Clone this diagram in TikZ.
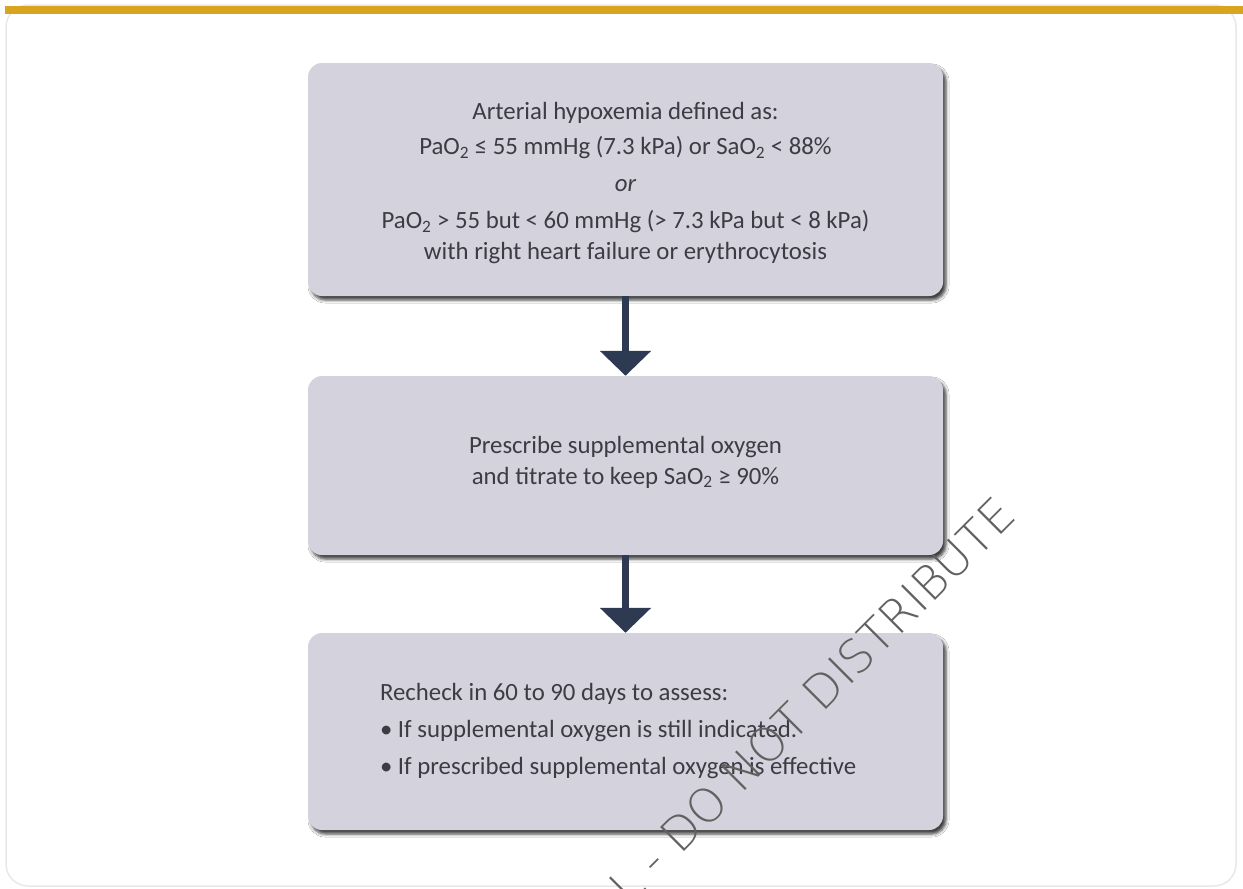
\documentclass[tikz,border=0pt]{standalone}
\usepackage{fontspec}
\setmainfont{Carlito}
\IfFontExistsTF{DejaVu Sans ExtraLight}
  {\newfontfamily\wmfont{DejaVu Sans ExtraLight}}
  {\IfFontExistsTF{DejaVuSans-ExtraLight.ttf}
    {\newfontfamily\wmfont{DejaVuSans-ExtraLight.ttf}}
    {\newfontfamily\wmfont{Liberation Sans}}}
\usetikzlibrary{shadows.blur, arrows.meta}
\definecolor{boxfill}{HTML}{D4D2DC}
\definecolor{navy}{HTML}{2E3A52}
\definecolor{txt}{HTML}{3C3C44}
\definecolor{gold}{HTML}{D9A51E}
\definecolor{cardline}{HTML}{E8E8EA}
\newcommand{\sub}[1]{\textsubscript{#1}}
\begin{document}
\begin{tikzpicture}[x=1pt,y=-1pt,
  flowbox/.style={fill=boxfill, rounded corners=14pt, minimum width=635pt, text=txt,
    font=\fontsize{24.8}{31}\selectfont, inner sep=0pt,
    blur shadow={shadow xshift=3pt, shadow yshift=-4pt, shadow opacity=75, shadow blur radius=3pt}},
  flowarrow/.style={navy, line width=7pt, -{Triangle[width=50pt,length=25pt]}},
  wm/.style={font=\wmfont\fontsize{46.5}{46.5}\selectfont, text=black!62, rotate=45, inner sep=0pt}]
\useasboundingbox (0,0) rectangle (1243,889);
\fill[white] (0,0) rectangle (1243,889);
% card
\draw[cardline, line width=1.5pt, rounded corners=22pt] (6,5) rectangle (1236,886);
\fill[gold] (5,5.5) rectangle (1243,13.5);
% boxes
\node[flowbox, minimum height=233pt, align=center] (b1) at (625.5,179.5)
  {\rule{0pt}{24pt}Arterial hypoxemia defined as:\\[4pt]
   PaO\sub{2} ≤ 55 mmHg (7.3 kPa) or SaO\sub{2} < 88\%\\[6pt]
   \textit{or}\\[6pt]
   PaO\sub{2} > 55 but < 60 mmHg (> 7.3 kPa but < 8 kPa)\\
   with right heart failure or erythrocytosis};
\node[flowbox, minimum height=179pt, align=center] (b2) at (625.5,465.5)
  {Prescribe supplemental oxygen\\
   and titrate to keep SaO\sub{2} ≥ 90\%\rule[-11pt]{0pt}{0pt}};
\node[flowbox, minimum height=197pt, align=flush left, text width=491pt] (b3) at (625.5,731.5)
  {Recheck in 60 to 90 days to assess:\\[6pt]
   • If supplemental oxygen is still indicated.\\[6pt]
   • If prescribed supplemental oxygen is effective};
% arrows
\draw[flowarrow] (b1.south) -- (b2.north);
\draw[flowarrow] (b2.south) -- (b3.north);
% watermark
\begin{scope}
\clip (0,0) rectangle (1243,889);
\node[wm, anchor=base east] (wmk) at (1018,518) {L - DO NOT DISTRIBUTE};
\end{scope}
\end{tikzpicture}
\end{document}
